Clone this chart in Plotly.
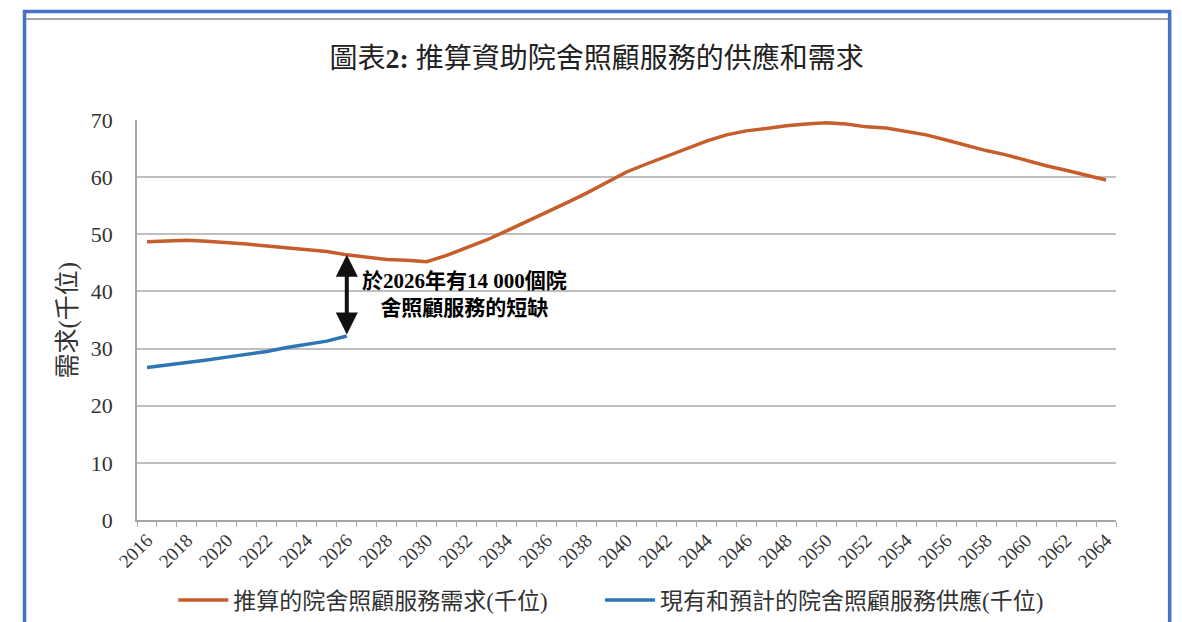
import plotly.graph_objects as go

years = list(range(2016, 2065))
demand = [48.7, 48.9, 48.95, 48.8, 48.6, 48.3, 47.95, 47.6, 47.3, 47.0,
          46.4, 46.0, 45.6, 45.45, 45.2, 46.3, 47.6, 49.0, 50.6, 52.2,
          53.9, 55.5, 57.2, 59.0, 60.9, 62.3, 63.6, 65.0, 66.3, 67.4,
          68.1, 68.5, 69.0, 69.3, 69.5, 69.3, 68.8, 68.6, 68.0, 67.4,
          66.5, 65.5, 64.65, 63.9, 62.9, 62.0, 61.2, 60.3, 59.5]
supply_years = list(range(2016, 2027))
supply = [26.7, 27.1, 27.55, 28.0, 28.5, 29.0, 29.5, 30.2, 30.7, 31.3, 32.2]
tick_years = list(range(2016, 2065, 2))
tick_labels = [str(y) for y in tick_years]
y_ticks = [0, 10, 20, 30, 40, 50, 60, 70]

title_text = "圖表<b>2:</b> 推算資助院舍照顧服務的供應和需求"
demand_name = "推算的院舍照顧服務需求(千位)"
supply_name = "現有和預計的院舍照顧服務供應(千位)"
y_title = "需求(千位)"
note_text = "<b>於2026年有14 000個院<br>舍照顧服務的短缺</b>"

SERIF = "Liberation Serif, 'Times New Roman', 'Noto Sans CJK TC', serif"
ORANGE = "#C65E2B"
BLUE = "#2E75B6"

fig = go.Figure()
fig.add_trace(go.Scatter(x=years, y=demand, mode="lines", name=demand_name,
                         line=dict(color=ORANGE, width=3.5), legend="legend"))
fig.add_trace(go.Scatter(x=supply_years, y=supply, mode="lines", name=supply_name,
                         line=dict(color=BLUE, width=3.5), legend="legend2"))

gap_year = supply_years[-1]
fig.add_annotation(x=gap_year, y=demand[years.index(gap_year)],
                   ax=gap_year, ay=supply[-1], xref="x", yref="y",
                   axref="x", ayref="y", text="", showarrow=True,
                   arrowhead=2, startarrowhead=2, arrowside="end+start",
                   arrowsize=1.1, startarrowsize=1.1, arrowwidth=4, arrowcolor="#111111")
fig.add_annotation(x=2031.9, y=39.5, xref="x", yref="y", text=note_text,
                   showarrow=False, align="center",
                   font=dict(family=SERIF, size=21, color="#000000"))

fig.add_annotation(x=-0.07, y=0.5, xref="paper", yref="paper", text=y_title,
                   textangle=-90, showarrow=False, xanchor="center", yanchor="middle",
                   font=dict(family=SERIF, size=25, color="#333333"))

# outer frame
fig.add_shape(type="line", xref="paper", yref="paper", x0=-0.1149, x1=1.0548,
              y0=1.2525, y1=1.2525, line=dict(color="#A6A6A6", width=2))
fig.add_shape(type="rect", xref="paper", yref="paper", x0=-0.1149, x1=1.0548,
              y0=-0.35, y1=1.2715, line=dict(color="#4472C4", width=3.5),
              fillcolor="rgba(0,0,0,0)")

legend_common = dict(orientation="h", y=-0.2, yanchor="middle", xanchor="left",
                     font=dict(family=SERIF, size=23, color="#333333"),
                     itemwidth=50, bgcolor="rgba(0,0,0,0)")

fig.update_layout(
    width=1182, height=622,
    margin=dict(l=129, r=74, t=112, b=110, autoexpand=False),
    paper_bgcolor="white", plot_bgcolor="white",
    title=dict(text=title_text, x=0.498, xanchor="center", y=0.92, yanchor="middle",
               font=dict(family=SERIF, size=28, color="#222222")),
    showlegend=True,
    legend=dict(x=0.037, **legend_common),
    legend2=dict(x=0.473, **legend_common),
    font=dict(family=SERIF),
)
fig.update_xaxes(range=[2015.5, 2064.5], tickvals=tick_years, ticktext=tick_labels,
                 tickangle=-45, ticks="", showgrid=False, zeroline=False,
                 showline=True, linecolor="#A6A6A6", linewidth=1.5,
                 tickfont=dict(family=SERIF, size=19, color="#333333"),
                 minor=dict(tick0=2015.5, dtick=1, ticks="outside", ticklen=5,
                            tickcolor="#A6A6A6", showgrid=False))
fig.update_yaxes(range=[0, 70], tickvals=y_ticks, showgrid=True, gridcolor="#BFBFBF",
                 gridwidth=1.5, zeroline=False, showline=True, linecolor="#A6A6A6",
                 linewidth=1.5, ticks="", ticklabelstandoff=18,
                 tickfont=dict(family=SERIF, size=22, color="#333333"))

fig.write_html("out.html")
